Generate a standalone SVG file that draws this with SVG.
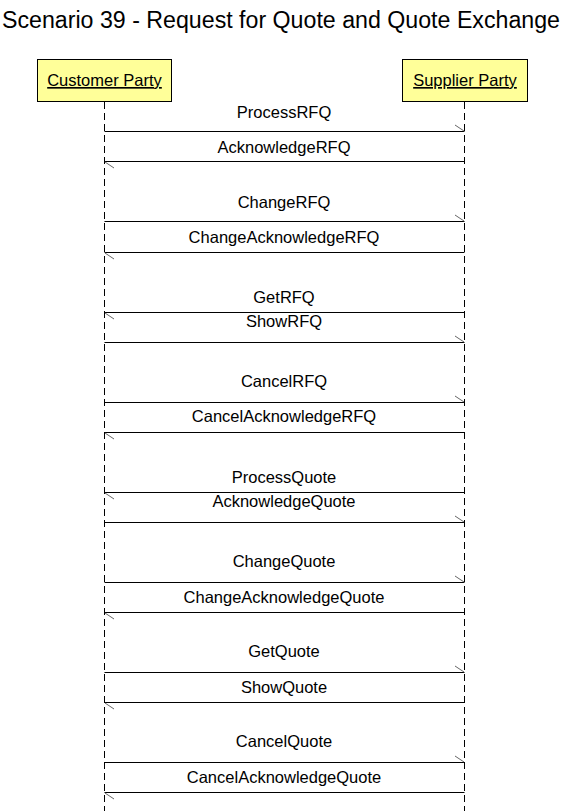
<svg xmlns="http://www.w3.org/2000/svg" width="563" height="811" viewBox="0 0 563 811">
<style>
text{font-family:"Liberation Sans",Arial,sans-serif;fill:#000}
.title{font-size:23.3px}
.lbl{font-size:16.5px;text-anchor:middle}
.pname{font-size:16.5px;text-anchor:middle;text-decoration:underline}
.box{fill:#ffff99;stroke:#000;stroke-width:1}
.life{stroke:#000;stroke-width:1;stroke-dasharray:7,4;fill:none}
.msg{stroke:#000;stroke-width:1;fill:none}
.head{stroke:#666;stroke-width:1;fill:none}
</style>
<rect width="563" height="811" fill="#fff"/>
<text class="title" x="2" y="28" textLength="558" lengthAdjust="spacingAndGlyphs">Scenario 39 - Request for Quote and Quote Exchange</text>
<g id="customer">
<rect class="box" x="37.5" y="59.5" width="134" height="42"/>
<text class="pname" x="104.5" y="86">Customer Party</text>
<line class="life" x1="104.5" y1="102" x2="104.5" y2="811"/>
</g>
<g id="supplier">
<rect class="box" x="402.5" y="59.5" width="125" height="42"/>
<text class="pname" x="465" y="86">Supplier Party</text>
<line class="life" x1="464.5" y1="102" x2="464.5" y2="811"/>
</g>
<g id="connectors">
<path class="msg" d="M104.5 131.5H464.5"/><path class="head" d="M455 125L464 131"/>
<path class="msg" d="M104.5 161.5H464.5"/><path class="head" d="M105 162L114 168"/>
<path class="msg" d="M104.5 221.5H464.5"/><path class="head" d="M455 215L464 221"/>
<path class="msg" d="M104.5 252.5H464.5"/><path class="head" d="M105 253L114 259"/>
<path class="msg" d="M104.5 312.5H464.5"/><path class="head" d="M105 313L114 319"/>
<path class="msg" d="M104.5 342.5H464.5"/><path class="head" d="M455 336L464 342"/>
<path class="msg" d="M104.5 402.5H464.5"/><path class="head" d="M455 396L464 402"/>
<path class="msg" d="M104.5 432.5H464.5"/><path class="head" d="M105 433L114 439"/>
<path class="msg" d="M104.5 492.5H464.5"/><path class="head" d="M105 493L114 499"/>
<path class="msg" d="M104.5 522.5H464.5"/><path class="head" d="M455 516L464 522"/>
<path class="msg" d="M104.5 582.5H464.5"/><path class="head" d="M455 576L464 582"/>
<path class="msg" d="M104.5 612.5H464.5"/><path class="head" d="M105 613L114 619"/>
<path class="msg" d="M104.5 672.5H464.5"/><path class="head" d="M455 666L464 672"/>
<path class="msg" d="M104.5 702.5H464.5"/><path class="head" d="M105 703L114 709"/>
<path class="msg" d="M104.5 762.5H464.5"/><path class="head" d="M455 756L464 762"/>
<path class="msg" d="M104.5 792.5H464.5"/><path class="head" d="M105 793L114 799"/>
</g>
<g id="labels">
<text class="lbl" x="284" y="118">ProcessRFQ</text>
<text class="lbl" x="284" y="153">AcknowledgeRFQ</text>
<text class="lbl" x="284" y="208">ChangeRFQ</text>
<text class="lbl" x="284" y="243">ChangeAcknowledgeRFQ</text>
<text class="lbl" x="284" y="303">GetRFQ</text>
<text class="lbl" x="284" y="327">ShowRFQ</text>
<text class="lbl" x="284" y="387">CancelRFQ</text>
<text class="lbl" x="284" y="422">CancelAcknowledgeRFQ</text>
<text class="lbl" x="284" y="483">ProcessQuote</text>
<text class="lbl" x="284" y="507">AcknowledgeQuote</text>
<text class="lbl" x="284" y="567">ChangeQuote</text>
<text class="lbl" x="284" y="603">ChangeAcknowledgeQuote</text>
<text class="lbl" x="284" y="657">GetQuote</text>
<text class="lbl" x="284" y="693">ShowQuote</text>
<text class="lbl" x="284" y="747">CancelQuote</text>
<text class="lbl" x="284" y="783">CancelAcknowledgeQuote</text>
</g>
</svg>
